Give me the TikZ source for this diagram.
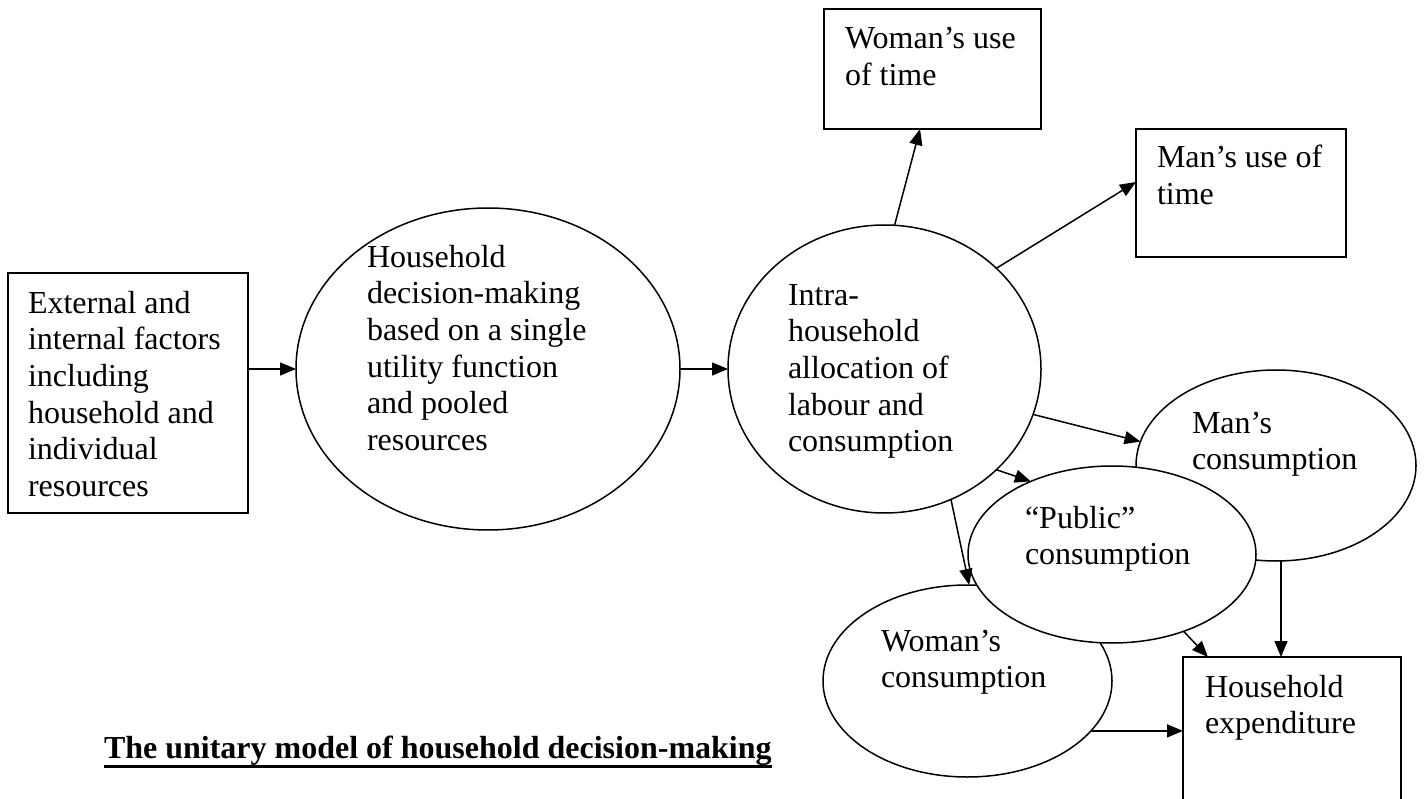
\documentclass[tikz,border=0pt]{standalone}
\usepackage{fontspec}
\setmainfont{Liberation Serif}
\usetikzlibrary{shapes.geometric,arrows.meta}
\newcommand{\fl}{\rule{0pt}{25pt}}
\begin{document}
\begin{tikzpicture}[x=1pt,y=-1pt,
  every node/.style={inner sep=0pt, outer sep=0pt},
  shp/.style={draw, line width=1.5pt, fill=white},
  boxs/.style={shp, rectangle, anchor=north west},
  ell/.style={shp, ellipse},
  txt/.style={anchor=north west, align=left, font=\fontsize{32pt}{36.7pt}\selectfont},
  arr/.style={line width=1.5pt, -{Triangle[length=16pt,width=13pt]}}]
\useasboundingbox (0,0) rectangle (1424,799);
\fill[white] (0,0) rectangle (1424,799);
\clip (0,0) rectangle (1424,799);

% shapes
\node[boxs, minimum width=240pt, minimum height=240pt] (lb) at (8,273) {};
\node[ell, minimum width=384pt, minimum height=322pt] (c1) at (488,369) {};
\node[ell, minimum width=313pt, minimum height=288pt] (c2) at (884.5,369) {};
\node[boxs, minimum width=217pt, minimum height=120pt] (wut) at (824,9) {};
\node[boxs, minimum width=210pt, minimum height=128pt] (mut) at (1136,129) {};
\node[ell, minimum width=280pt, minimum height=191pt] (mc) at (1276,465.5) {};
\node[ell, minimum width=289pt, minimum height=192pt] (wc) at (967.5,681) {};
\node[ell, minimum width=288pt, minimum height=177pt] (pc) at (1112,554.5) {};
\node[boxs, minimum width=218pt, minimum height=170pt] (he) at (1183,657) {};

% texts
\node[txt] (tlb) at (28,288) {\fl External and\\internal factors\\including\\household and\\individual\\resources};
\node[txt] (tc1) at (367,242) {\fl Household\\decision-making\\based on a single\\utility function\\and pooled\\resources};
\node[txt] (tc2) at (788,280) {\fl Intra-\\household\\allocation of\\labour and\\consumption};
\node[txt] (twut) at (845,24) {\fl Woman’s use\\of time};
\node[txt] (tmut) at (1157,143) {\fl Man’s use of\\time};
\node[txt] (tmc) at (1192,408) {\fl Man’s\\consumption};
\node[txt] (tpc) at (1025,503) {\fl “Public”\\consumption};
\node[txt] (twc) at (881,626) {\fl Woman’s\\consumption};
\node[txt] (the) at (1205,672) {\fl Household\\expenditure};

% title
\node[anchor=base west, font=\fontsize{32pt}{36pt}\selectfont\bfseries] (title) at (104,758)
  {The unitary model of household decision-making};
\draw[line width=3pt] ([yshift=-8pt]title.base west) -- ([yshift=-8pt]title.base east);

% connectors
\draw[arr] (lb.east |- c1.west) -- (c1.west);
\draw[arr] (c1.east) -- (c2.west);
\draw[arr] (c2.86) -- ([xshift=-12.5pt]wut.south);
\draw[arr] (c2.42) -- ([yshift=11pt]mut.west);
\draw[arr] (c2.-17) -- (mc.170);
\draw[arr] (c2.-42) -- (pc.138);
\draw[arr] (c2.-63) -- (wc.89);
\draw[arr] ([xshift=5pt]mc.south) -- ([xshift=5pt]mc.south |- he.north);
\draw[arr] (pc.-47.5) -- ([xshift=25pt]he.north west);
\draw[arr] (wc.-22) -- (wc.-22 -| he.west);
\end{tikzpicture}
\end{document}
